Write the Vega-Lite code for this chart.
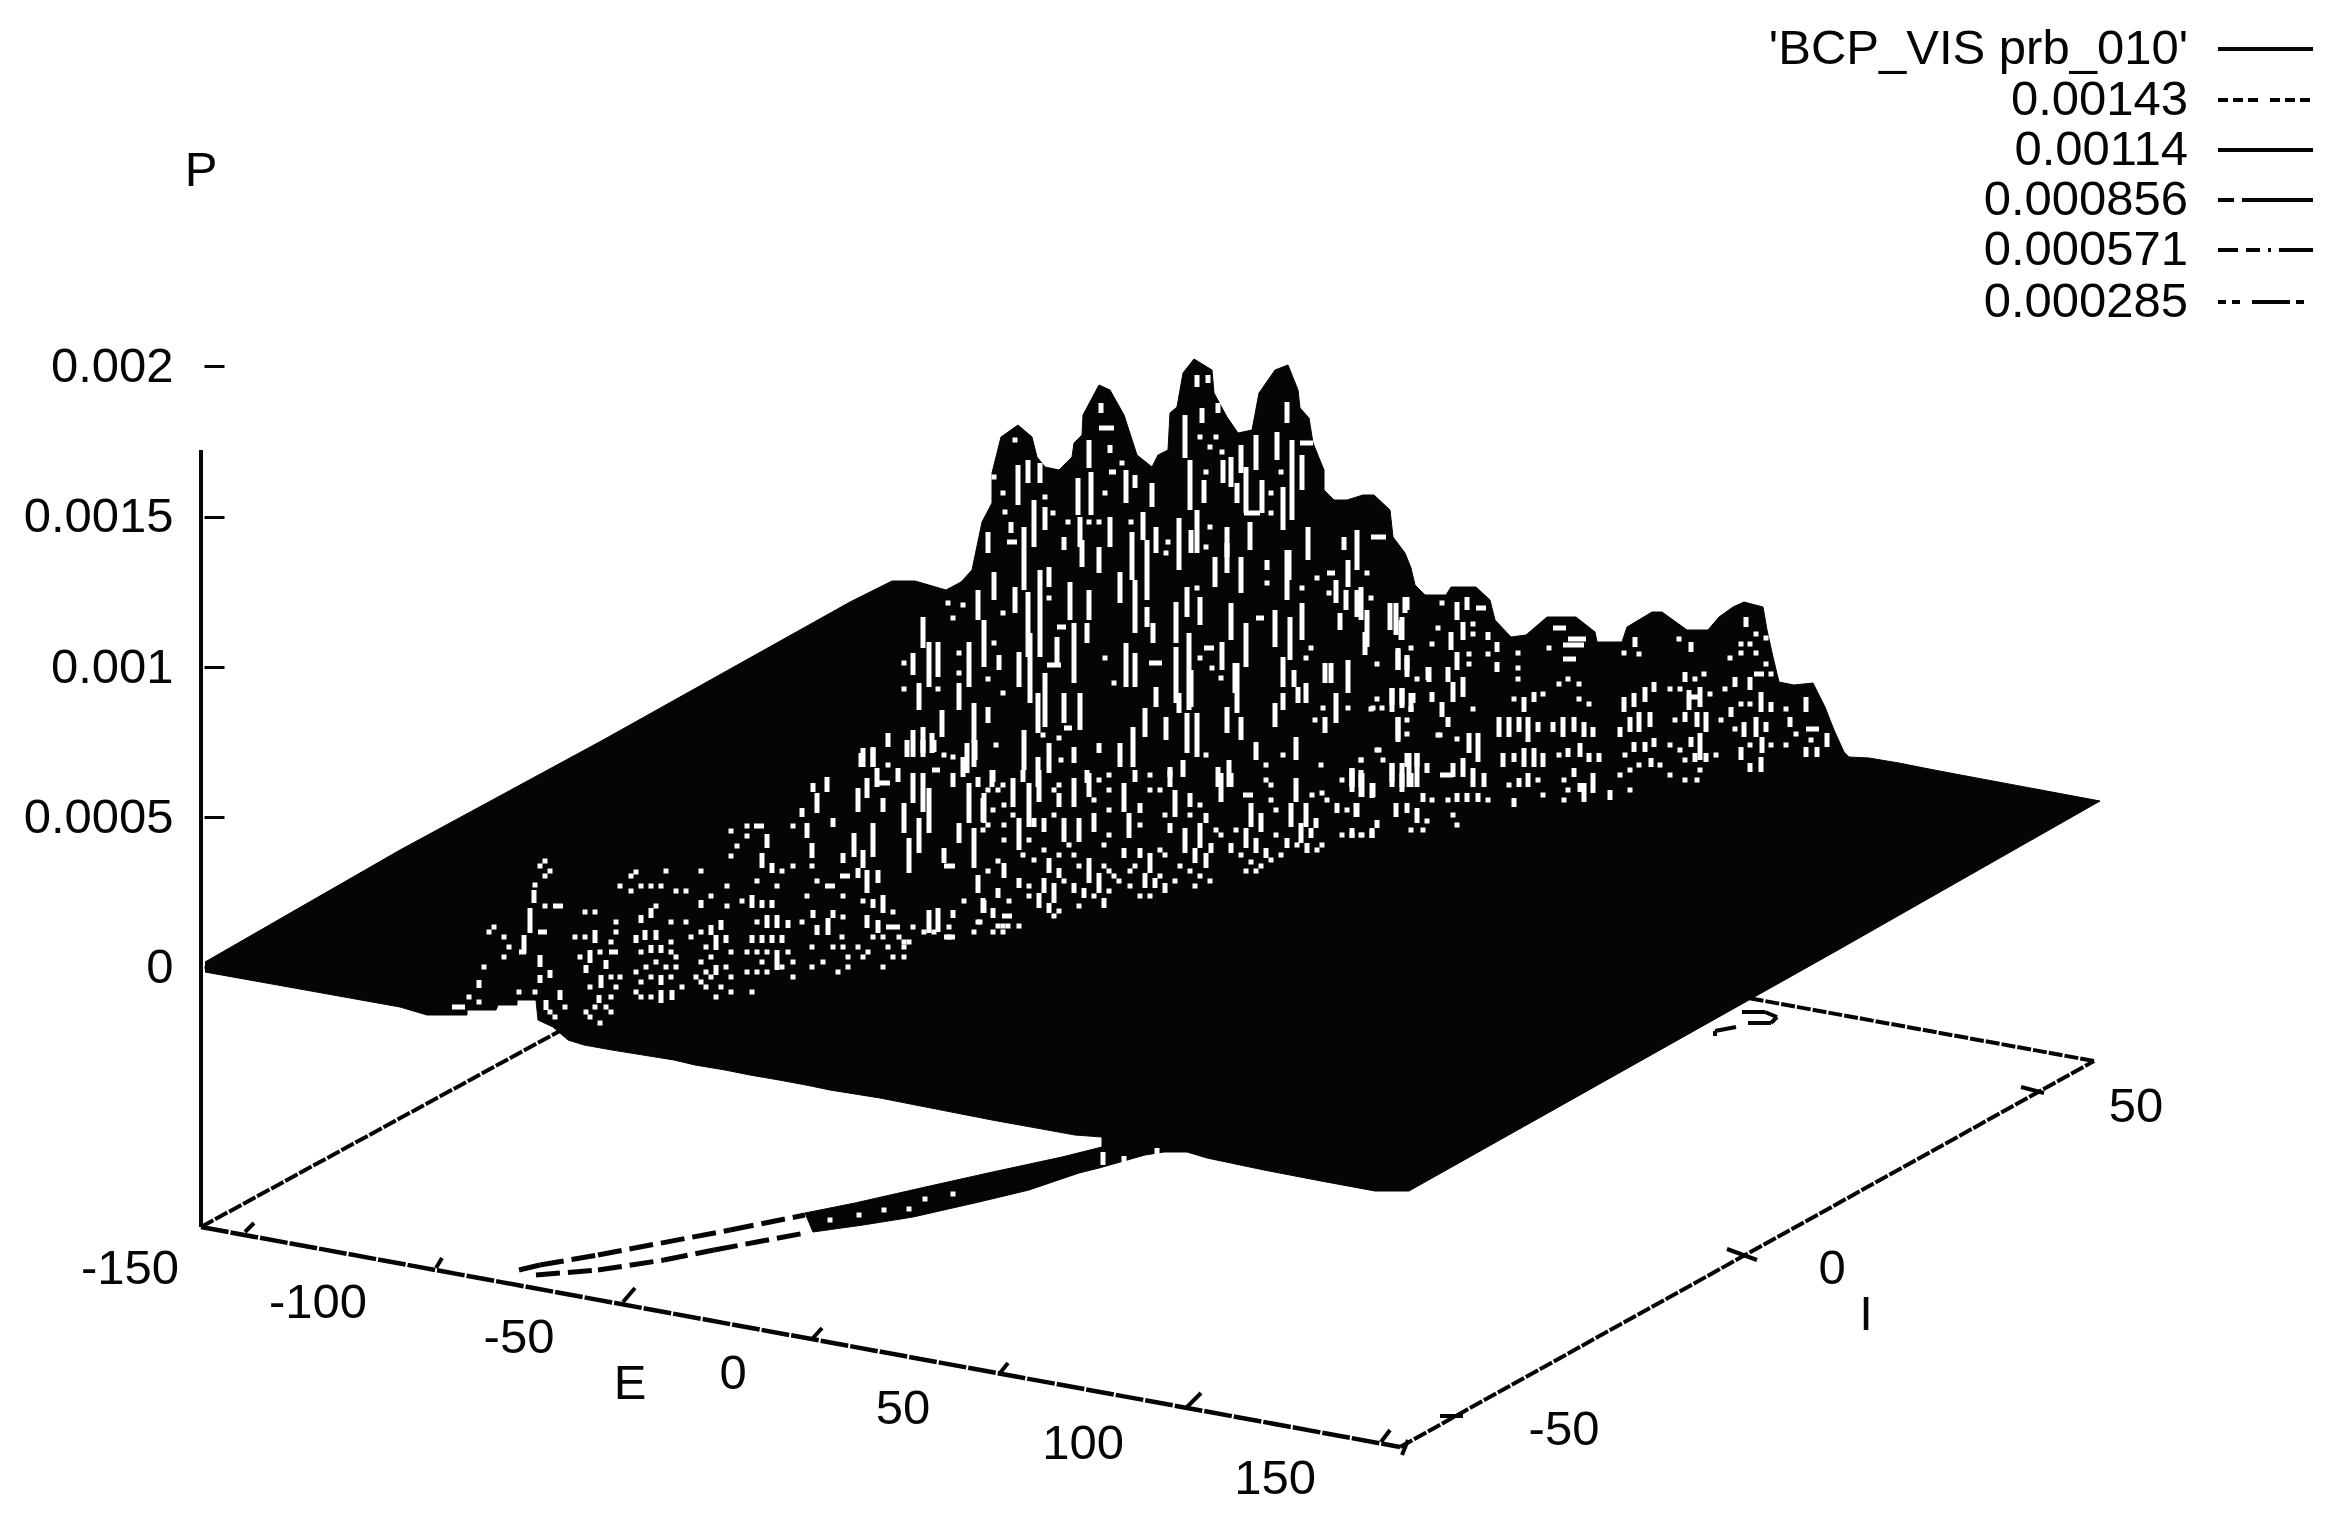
{"$schema":"https://vega.github.io/schema/vega-lite/v6.json","width":2335,"height":1517,"padding":0,"autosize":{"type":"none"},"background":"white","config":{"view":{"stroke":null},"text":{"font":"Liberation Sans","fontSize":49,"fill":"#040504"}},
"datasets":{
"frameLong":[{"h":201,"v":1227,"h2":1400,"v2":1447}],
"frameShort":[{"h":201,"v":1227,"h2":900,"v2":845},{"h":1400,"v":1447,"h2":2094,"v2":1061},{"h":2094,"v":1061,"h2":1600,"v2":971}],
"ticks":[{"h":245,"v":1232,"h2":254,"v2":1223},{"h":436,"v":1268,"h2":442,"v2":1258},{"h":623,"v":1302,"h2":635,"v2":1288},{"h":813,"v":1338,"h2":822,"v2":1328},{"h":1000,"v":1373,"h2":1008,"v2":1363},{"h":1186,"v":1408,"h2":1201,"v2":1393},{"h":1381,"v":1442,"h2":1390,"v2":1430},{"h":1757,"v":1260,"h2":1727,"v2":1249},{"h":2044,"v":1093,"h2":2021,"v2":1087},{"h":1463,"v":1416,"h2":1440,"v2":1416},{"h":1402,"v":1455,"h2":1408,"v2":1440},{"h":1742,"v":1012,"h2":1765,"v2":1012},{"h":1765,"v":1012,"h2":1777,"v2":1017},{"h":1777,"v":1017,"h2":1771,"v2":1023},{"h":1771,"v":1023,"h2":1748,"v2":1023},{"h":1736,"v":1027,"h2":1715,"v2":1031},{"h":1715,"v":1031,"h2":1715,"v2":1036},{"h":201,"v":450,"h2":201,"v2":1227}],
"ribbon":[{"h":519,"v":1270,"h2":540,"v2":1265},{"h":540,"v":1265,"h2":598,"v2":1255},{"h":598,"v":1255,"h2":730,"v2":1230},{"h":730,"v":1230,"h2":805,"v2":1215},{"h":536,"v":1275,"h2":598,"v2":1270},{"h":598,"v":1270,"h2":664,"v2":1260},{"h":664,"v":1260,"h2":714,"v2":1250},{"h":714,"v":1250,"h2":805,"v2":1233}],
"surface":[{"n":1,"h":205,"v":962},{"n":2,"h":400,"v":850},{"n":3,"h":603,"v":740},{"n":4,"h":850,"v":602},{"n":5,"h":892,"v":581},{"n":6,"h":915,"v":581},{"n":7,"h":946,"v":590},{"n":8,"h":961,"v":582},{"n":9,"h":972,"v":570},{"n":10,"h":982,"v":522},{"n":11,"h":992,"v":503},{"n":12,"h":992,"v":473},{"n":13,"h":1001,"v":437},{"n":14,"h":1018,"v":425},{"n":15,"h":1032,"v":437},{"n":16,"h":1037,"v":457},{"n":17,"h":1045,"v":467},{"n":18,"h":1059,"v":470},{"n":19,"h":1072,"v":457},{"n":20,"h":1074,"v":443},{"n":21,"h":1082,"v":435},{"n":22,"h":1083,"v":415},{"n":23,"h":1099,"v":385},{"n":24,"h":1110,"v":390},{"n":25,"h":1124,"v":415},{"n":26,"h":1137,"v":455},{"n":27,"h":1152,"v":467},{"n":28,"h":1158,"v":455},{"n":29,"h":1168,"v":450},{"n":30,"h":1170,"v":413},{"n":31,"h":1177,"v":407},{"n":32,"h":1183,"v":373},{"n":33,"h":1194,"v":359},{"n":34,"h":1212,"v":370},{"n":35,"h":1214,"v":393},{"n":36,"h":1227,"v":417},{"n":37,"h":1238,"v":433},{"n":38,"h":1252,"v":430},{"n":39,"h":1259,"v":393},{"n":40,"h":1275,"v":370},{"n":41,"h":1288,"v":365},{"n":42,"h":1298,"v":390},{"n":43,"h":1300,"v":408},{"n":44,"h":1309,"v":418},{"n":45,"h":1313,"v":443},{"n":46,"h":1324,"v":470},{"n":47,"h":1324,"v":490},{"n":48,"h":1334,"v":500},{"n":49,"h":1347,"v":500},{"n":50,"h":1363,"v":495},{"n":51,"h":1374,"v":495},{"n":52,"h":1390,"v":510},{"n":53,"h":1393,"v":537},{"n":54,"h":1405,"v":553},{"n":55,"h":1411,"v":568},{"n":56,"h":1415,"v":585},{"n":57,"h":1425,"v":595},{"n":58,"h":1446,"v":595},{"n":59,"h":1451,"v":587},{"n":60,"h":1476,"v":587},{"n":61,"h":1490,"v":600},{"n":62,"h":1495,"v":620},{"n":63,"h":1511,"v":637},{"n":64,"h":1526,"v":635},{"n":65,"h":1547,"v":617},{"n":66,"h":1576,"v":617},{"n":67,"h":1595,"v":632},{"n":68,"h":1597,"v":642},{"n":69,"h":1622,"v":642},{"n":70,"h":1627,"v":627},{"n":71,"h":1652,"v":612},{"n":72,"h":1662,"v":612},{"n":73,"h":1687,"v":630},{"n":74,"h":1708,"v":630},{"n":75,"h":1719,"v":617},{"n":76,"h":1733,"v":607},{"n":77,"h":1744,"v":602},{"n":78,"h":1763,"v":607},{"n":79,"h":1767,"v":630},{"n":80,"h":1773,"v":657},{"n":81,"h":1779,"v":682},{"n":82,"h":1794,"v":685},{"n":83,"h":1813,"v":683},{"n":84,"h":1825,"v":707},{"n":85,"h":1834,"v":730},{"n":86,"h":1844,"v":752},{"n":87,"h":1849,"v":757},{"n":88,"h":1869,"v":758},{"n":89,"h":1899,"v":763},{"n":90,"h":1924,"v":768},{"n":91,"h":1950,"v":773},{"n":92,"h":2100,"v":801},{"n":93,"h":1838,"v":950},{"n":94,"h":1409,"v":1191},{"n":95,"h":1375,"v":1191},{"n":96,"h":1321,"v":1181},{"n":97,"h":1264,"v":1170},{"n":98,"h":1207,"v":1158},{"n":99,"h":1187,"v":1152},{"n":100,"h":1164,"v":1152},{"n":101,"h":1145,"v":1155},{"n":102,"h":1099,"v":1168},{"n":103,"h":1079,"v":1173},{"n":104,"h":1029,"v":1190},{"n":105,"h":979,"v":1202},{"n":106,"h":913,"v":1217},{"n":107,"h":863,"v":1225},{"n":108,"h":813,"v":1232},{"n":109,"h":805,"v":1213},{"n":110,"h":855,"v":1203},{"n":111,"h":921,"v":1188},{"n":112,"h":988,"v":1173},{"n":113,"h":1062,"v":1157},{"n":114,"h":1102,"v":1147},{"n":115,"h":1102,"v":1137},{"n":116,"h":1075,"v":1135},{"n":117,"h":992,"v":1120},{"n":118,"h":880,"v":1098},{"n":119,"h":830,"v":1090},{"n":120,"h":806,"v":1085},{"n":121,"h":779,"v":1080},{"n":122,"h":750,"v":1075},{"n":123,"h":725,"v":1070},{"n":124,"h":695,"v":1065},{"n":125,"h":674,"v":1060},{"n":126,"h":643,"v":1055},{"n":127,"h":612,"v":1050},{"n":128,"h":584,"v":1045},{"n":129,"h":568,"v":1040},{"n":130,"h":553,"v":1027},{"n":131,"h":538,"v":1020},{"n":132,"h":536,"v":1000},{"n":133,"h":517,"v":1000},{"n":134,"h":517,"v":1005},{"n":135,"h":498,"v":1005},{"n":136,"h":496,"v":1010},{"n":137,"h":467,"v":1010},{"n":138,"h":467,"v":1015},{"n":139,"h":427,"v":1015},{"n":140,"h":400,"v":1007},{"n":141,"h":205,"v":972}],
"vert":[{"h":1018,"v":465,"v2":505},{"h":1028,"v":460,"v2":483},{"h":1040,"v":463,"v2":483},{"h":1091,"v":472,"v2":515},{"h":1078,"v":478,"v2":515},{"h":1089,"v":440,"v2":468},{"h":1110,"v":445,"v2":453},{"h":1126,"v":470,"v2":503},{"h":1135,"v":475,"v2":488},{"h":1152,"v":483,"v2":507},{"h":1185,"v":415,"v2":458},{"h":1190,"v":460,"v2":510},{"h":1197,"v":510,"v2":553},{"h":1197,"v":375,"v2":387},{"h":1208,"v":375,"v2":383},{"h":1101,"v":403,"v2":413},{"h":1218,"v":403,"v2":413},{"h":1202,"v":408,"v2":423},{"h":1241,"v":445,"v2":473},{"h":1256,"v":435,"v2":470},{"h":1277,"v":432,"v2":460},{"h":1287,"v":402,"v2":423},{"h":1292,"v":440,"v2":520},{"h":1302,"v":455,"v2":490},{"h":1223,"v":460,"v2":483},{"h":1231,"v":457,"v2":487},{"h":1237,"v":483,"v2":503},{"h":1246,"v":467,"v2":513},{"h":1262,"v":480,"v2":513},{"h":1283,"v":487,"v2":530},{"h":1204,"v":480,"v2":503},{"h":1034,"v":500,"v2":547},{"h":1045,"v":507,"v2":530},{"h":1024,"v":527,"v2":590},{"h":1011,"v":522,"v2":533},{"h":988,"v":532,"v2":553},{"h":1080,"v":517,"v2":547},{"h":1110,"v":517,"v2":547},{"h":1132,"v":532,"v2":580},{"h":1143,"v":512,"v2":540},{"h":1147,"v":540,"v2":600},{"h":1156,"v":527,"v2":553},{"h":1179,"v":518,"v2":570},{"h":1191,"v":530,"v2":553},{"h":1227,"v":527,"v2":557},{"h":1250,"v":522,"v2":550},{"h":1289,"v":550,"v2":580},{"h":1308,"v":527,"v2":560},{"h":1357,"v":530,"v2":570},{"h":1348,"v":560,"v2":587},{"h":1344,"v":537,"v2":550},{"h":1082,"v":540,"v2":567},{"h":1099,"v":547,"v2":573},{"h":1064,"v":537,"v2":550},{"h":1215,"v":557,"v2":587},{"h":1227,"v":543,"v2":573},{"h":1241,"v":557,"v2":593},{"h":1287,"v":550,"v2":600},{"h":1267,"v":560,"v2":570},{"h":1040,"v":570,"v2":657},{"h":1049,"v":567,"v2":587},{"h":1028,"v":592,"v2":657},{"h":1015,"v":587,"v2":613},{"h":994,"v":572,"v2":600},{"h":978,"v":590,"v2":620},{"h":984,"v":620,"v2":667},{"h":923,"v":617,"v2":648},{"h":938,"v":642,"v2":677},{"h":929,"v":642,"v2":687},{"h":913,"v":653,"v2":675},{"h":969,"v":642,"v2":687},{"h":1019,"v":652,"v2":687},{"h":1030,"v":633,"v2":703},{"h":999,"v":655,"v2":670},{"h":1057,"v":637,"v2":663},{"h":1070,"v":582,"v2":620},{"h":1074,"v":623,"v2":683},{"h":1089,"v":590,"v2":620},{"h":1087,"v":623,"v2":643},{"h":1120,"v":572,"v2":603},{"h":1135,"v":580,"v2":633},{"h":1147,"v":607,"v2":627},{"h":1153,"v":623,"v2":643},{"h":1126,"v":643,"v2":687},{"h":1135,"v":653,"v2":687},{"h":1176,"v":602,"v2":643},{"h":1176,"v":647,"v2":703},{"h":1189,"v":633,"v2":710},{"h":1187,"v":587,"v2":617},{"h":1200,"v":597,"v2":625},{"h":1222,"v":642,"v2":670},{"h":1235,"v":663,"v2":693},{"h":1246,"v":623,"v2":667},{"h":1231,"v":603,"v2":640},{"h":1275,"v":610,"v2":647},{"h":1290,"v":617,"v2":660},{"h":1302,"v":603,"v2":640},{"h":1283,"v":657,"v2":687},{"h":1294,"v":670,"v2":687},{"h":1306,"v":683,"v2":703},{"h":1336,"v":580,"v2":603},{"h":1346,"v":590,"v2":610},{"h":1357,"v":590,"v2":617},{"h":1367,"v":610,"v2":647},{"h":1340,"v":613,"v2":630},{"h":1401,"v":620,"v2":640},{"h":1405,"v":597,"v2":613},{"h":1390,"v":603,"v2":630},{"h":1398,"v":650,"v2":670},{"h":1325,"v":663,"v2":683},{"h":1331,"v":663,"v2":683},{"h":1348,"v":660,"v2":693},{"h":1407,"v":657,"v2":670},{"h":1428,"v":667,"v2":680},{"h":1336,"v":693,"v2":723},{"h":1402,"v":688,"v2":705},{"h":1392,"v":688,"v2":705},{"h":1413,"v":693,"v2":703},{"h":1398,"v":717,"v2":740},{"h":1325,"v":717,"v2":733},{"h":1409,"v":753,"v2":787},{"h":1417,"v":753,"v2":787},{"h":1392,"v":763,"v2":787},{"h":1402,"v":763,"v2":787},{"h":1361,"v":770,"v2":787},{"h":1352,"v":768,"v2":787},{"h":919,"v":683,"v2":710},{"h":959,"v":683,"v2":710},{"h":974,"v":703,"v2":743},{"h":988,"v":707,"v2":723},{"h":942,"v":710,"v2":737},{"h":932,"v":733,"v2":753},{"h":913,"v":730,"v2":757},{"h":923,"v":727,"v2":753},{"h":888,"v":733,"v2":747},{"h":873,"v":747,"v2":767},{"h":861,"v":753,"v2":767},{"h":974,"v":740,"v2":767},{"h":967,"v":743,"v2":773},{"h":1024,"v":730,"v2":770},{"h":1038,"v":693,"v2":733},{"h":1045,"v":673,"v2":727},{"h":1064,"v":693,"v2":723},{"h":1080,"v":693,"v2":730},{"h":1049,"v":743,"v2":773},{"h":1038,"v":757,"v2":787},{"h":1074,"v":747,"v2":763},{"h":1099,"v":743,"v2":753},{"h":1120,"v":743,"v2":767},{"h":1133,"v":727,"v2":767},{"h":1145,"v":708,"v2":737},{"h":1166,"v":717,"v2":740},{"h":1187,"v":713,"v2":753},{"h":1197,"v":713,"v2":757},{"h":1156,"v":687,"v2":707},{"h":1191,"v":670,"v2":707},{"h":1179,"v":693,"v2":713},{"h":1227,"v":707,"v2":733},{"h":1241,"v":717,"v2":740},{"h":1237,"v":663,"v2":713},{"h":1256,"v":742,"v2":760},{"h":1296,"v":737,"v2":760},{"h":992,"v":770,"v2":787},{"h":1087,"v":770,"v2":783},{"h":1170,"v":767,"v2":777},{"h":1183,"v":760,"v2":777},{"h":1218,"v":767,"v2":787},{"h":1229,"v":760,"v2":787},{"h":1275,"v":703,"v2":727},{"h":1283,"v":693,"v2":710},{"h":1298,"v":687,"v2":703},{"h":1365,"v":632,"v2":655},{"h":1361,"v":587,"v2":620},{"h":1396,"v":603,"v2":635},{"h":1407,"v":597,"v2":610},{"h":1402,"v":617,"v2":640},{"h":1398,"v":648,"v2":670},{"h":1407,"v":655,"v2":677},{"h":1429,"v":667,"v2":682},{"h":1448,"v":667,"v2":682},{"h":1451,"v":632,"v2":650},{"h":1457,"v":652,"v2":670},{"h":1457,"v":602,"v2":620},{"h":1467,"v":597,"v2":610},{"h":1463,"v":622,"v2":640},{"h":1488,"v":632,"v2":640},{"h":1497,"v":642,"v2":652},{"h":1497,"v":662,"v2":672},{"h":1392,"v":688,"v2":712},{"h":1402,"v":688,"v2":708},{"h":1411,"v":693,"v2":712},{"h":1442,"v":702,"v2":717},{"h":1448,"v":717,"v2":727},{"h":1453,"v":682,"v2":702},{"h":1463,"v":677,"v2":697},{"h":1398,"v":717,"v2":742},{"h":1432,"v":692,"v2":702},{"h":1499,"v":717,"v2":737},{"h":1509,"v":717,"v2":737},{"h":1519,"v":717,"v2":732},{"h":1528,"v":717,"v2":742},{"h":1538,"v":722,"v2":732},{"h":1524,"v":697,"v2":712},{"h":1534,"v":692,"v2":702},{"h":1553,"v":722,"v2":732},{"h":1563,"v":717,"v2":737},{"h":1574,"v":717,"v2":732},{"h":1584,"v":722,"v2":737},{"h":1593,"v":727,"v2":737},{"h":1620,"v":727,"v2":737},{"h":1630,"v":717,"v2":732},{"h":1639,"v":712,"v2":732},{"h":1650,"v":712,"v2":727},{"h":1624,"v":697,"v2":712},{"h":1634,"v":693,"v2":707},{"h":1645,"v":687,"v2":702},{"h":1635,"v":637,"v2":647},{"h":1654,"v":682,"v2":692},{"h":1685,"v":672,"v2":682},{"h":1685,"v":712,"v2":722},{"h":1697,"v":712,"v2":727},{"h":1706,"v":712,"v2":732},{"h":1689,"v":690,"v2":710},{"h":1700,"v":687,"v2":707},{"h":1691,"v":642,"v2":652},{"h":1731,"v":707,"v2":717},{"h":1735,"v":677,"v2":687},{"h":1750,"v":677,"v2":690},{"h":1746,"v":617,"v2":627},{"h":1744,"v":722,"v2":737},{"h":1756,"v":717,"v2":737},{"h":1766,"v":722,"v2":732},{"h":1761,"v":692,"v2":712},{"h":1771,"v":702,"v2":712},{"h":1790,"v":717,"v2":727},{"h":1806,"v":697,"v2":712},{"h":1827,"v":733,"v2":747},{"h":1806,"v":747,"v2":757},{"h":1817,"v":747,"v2":757},{"h":1762,"v":737,"v2":753},{"h":1741,"v":747,"v2":760},{"h":1750,"v":763,"v2":772},{"h":1761,"v":757,"v2":772},{"h":1691,"v":737,"v2":747},{"h":1700,"v":733,"v2":760},{"h":1695,"v":753,"v2":762},{"h":1706,"v":753,"v2":762},{"h":1654,"v":738,"v2":747},{"h":1645,"v":742,"v2":752},{"h":1634,"v":742,"v2":752},{"h":1651,"v":758,"v2":767},{"h":1580,"v":743,"v2":757},{"h":1568,"v":748,"v2":757},{"h":1589,"v":753,"v2":762},{"h":1599,"v":753,"v2":762},{"h":1503,"v":753,"v2":767},{"h":1514,"v":753,"v2":762},{"h":1524,"v":748,"v2":767},{"h":1534,"v":748,"v2":767},{"h":1543,"v":753,"v2":767},{"h":1478,"v":733,"v2":762},{"h":1469,"v":733,"v2":753},{"h":1463,"v":758,"v2":777},{"h":1473,"v":768,"v2":787},{"h":1453,"v":763,"v2":777},{"h":1484,"v":773,"v2":787},{"h":1427,"v":763,"v2":773},{"h":1417,"v":753,"v2":767},{"h":1407,"v":753,"v2":767},{"h":1402,"v":773,"v2":792},{"h":1411,"v":773,"v2":787},{"h":1392,"v":763,"v2":782},{"h":1361,"v":773,"v2":797},{"h":1373,"v":783,"v2":797},{"h":1352,"v":768,"v2":787},{"h":1356,"v":803,"v2":817},{"h":1396,"v":803,"v2":817},{"h":1407,"v":803,"v2":813},{"h":1417,"v":808,"v2":823},{"h":1377,"v":820,"v2":828},{"h":1372,"v":830,"v2":838},{"h":1423,"v":793,"v2":802},{"h":1457,"v":793,"v2":802},{"h":1467,"v":793,"v2":802},{"h":1478,"v":793,"v2":802},{"h":1528,"v":773,"v2":787},{"h":1519,"v":778,"v2":787},{"h":1514,"v":798,"v2":807},{"h":1574,"v":768,"v2":777},{"h":1584,"v":783,"v2":802},{"h":1593,"v":773,"v2":793},{"h":1580,"v":783,"v2":792},{"h":1610,"v":790,"v2":800},{"h":530,"v":908,"v2":933},{"h":534,"v":890,"v2":903},{"h":524,"v":935,"v2":953},{"h":479,"v":980,"v2":988},{"h":540,"v":955,"v2":967},{"h":550,"v":970,"v2":978},{"h":540,"v":975,"v2":983},{"h":546,"v":1000,"v2":1010},{"h":560,"v":990,"v2":1000},{"h":595,"v":930,"v2":943},{"h":586,"v":965,"v2":973},{"h":590,"v":950,"v2":963},{"h":606,"v":960,"v2":969},{"h":601,"v":975,"v2":988},{"h":599,"v":995,"v2":1003},{"h":636,"v":935,"v2":943},{"h":645,"v":930,"v2":940},{"h":656,"v":930,"v2":940},{"h":651,"v":945,"v2":953},{"h":661,"v":945,"v2":953},{"h":641,"v":915,"v2":923},{"h":651,"v":908,"v2":918},{"h":661,"v":975,"v2":985},{"h":672,"v":990,"v2":1000},{"h":661,"v":990,"v2":1003},{"h":716,"v":935,"v2":950},{"h":726,"v":935,"v2":943},{"h":711,"v":925,"v2":935},{"h":721,"v":920,"v2":930},{"h":716,"v":965,"v2":975},{"h":701,"v":900,"v2":908},{"h":752,"v":895,"v2":908},{"h":762,"v":900,"v2":908},{"h":772,"v":900,"v2":908},{"h":752,"v":935,"v2":943},{"h":762,"v":935,"v2":943},{"h":772,"v":935,"v2":943},{"h":782,"v":935,"v2":943},{"h":767,"v":915,"v2":928},{"h":777,"v":915,"v2":928},{"h":788,"v":920,"v2":928},{"h":777,"v":950,"v2":970},{"h":762,"v":853,"v2":868},{"h":772,"v":863,"v2":873},{"h":767,"v":834,"v2":848},{"h":807,"v":823,"v2":838},{"h":812,"v":843,"v2":858},{"h":813,"v":910,"v2":918},{"h":828,"v":918,"v2":935},{"h":817,"v":925,"v2":935},{"h":833,"v":910,"v2":918},{"h":873,"v":899,"v2":908},{"h":867,"v":915,"v2":928},{"h":878,"v":920,"v2":933},{"h":883,"v":895,"v2":913},{"h":843,"v":853,"v2":863},{"h":854,"v":833,"v2":857},{"h":863,"v":850,"v2":868},{"h":873,"v":823,"v2":857},{"h":904,"v":803,"v2":833},{"h":919,"v":818,"v2":853},{"h":929,"v":788,"v2":833},{"h":909,"v":838,"v2":873},{"h":944,"v":848,"v2":863},{"h":959,"v":823,"v2":843},{"h":974,"v":828,"v2":868},{"h":978,"v":875,"v2":893},{"h":984,"v":900,"v2":913},{"h":929,"v":910,"v2":933},{"h":938,"v":908,"v2":932},{"h":953,"v":910,"v2":918},{"h":867,"v":870,"v2":893},{"h":878,"v":870,"v2":883},{"h":858,"v":868,"v2":878},{"h":858,"v":788,"v2":812},{"h":867,"v":778,"v2":798},{"h":883,"v":798,"v2":812},{"h":898,"v":768,"v2":782},{"h":913,"v":773,"v2":803},{"h":923,"v":773,"v2":812},{"h":863,"v":748,"v2":767},{"h":873,"v":748,"v2":767},{"h":877,"v":768,"v2":787},{"h":817,"v":793,"v2":813},{"h":827,"v":777,"v2":792},{"h":813,"v":783,"v2":792},{"h":802,"v":808,"v2":817},{"h":833,"v":818,"v2":827},{"h":969,"v":783,"v2":823},{"h":984,"v":793,"v2":823},{"h":953,"v":773,"v2":787},{"h":907,"v":740,"v2":757},{"h":923,"v":740,"v2":757},{"h":934,"v":740,"v2":752},{"h":975,"v":740,"v2":760},{"h":963,"v":757,"v2":777},{"h":978,"v":777,"v2":787},{"h":1103,"v":1152,"v2":1165},{"h":1124,"v":1156,"v2":1166},{"h":1157,"v":1148,"v2":1156},{"h":983,"v":798,"v2":822},{"h":993,"v":770,"v2":782},{"h":1013,"v":778,"v2":807},{"h":1023,"v":770,"v2":782},{"h":1029,"v":783,"v2":827},{"h":1039,"v":770,"v2":802},{"h":1059,"v":793,"v2":807},{"h":1074,"v":778,"v2":807},{"h":1089,"v":773,"v2":797},{"h":1124,"v":783,"v2":812},{"h":1135,"v":770,"v2":782},{"h":1170,"v":770,"v2":787},{"h":1175,"v":790,"v2":817},{"h":1190,"v":793,"v2":807},{"h":1140,"v":803,"v2":813},{"h":1221,"v":773,"v2":802},{"h":1231,"v":773,"v2":787},{"h":1251,"v":803,"v2":827},{"h":1261,"v":813,"v2":832},{"h":1296,"v":778,"v2":802},{"h":1291,"v":803,"v2":827},{"h":1306,"v":803,"v2":827},{"h":1352,"v":770,"v2":792},{"h":1362,"v":773,"v2":797},{"h":1372,"v":783,"v2":798},{"h":1337,"v":803,"v2":813},{"h":1357,"v":803,"v2":817},{"h":1019,"v":818,"v2":850},{"h":1034,"v":818,"v2":827},{"h":1044,"v":818,"v2":832},{"h":1064,"v":818,"v2":842},{"h":1079,"v":818,"v2":842},{"h":1094,"v":813,"v2":832},{"h":1129,"v":813,"v2":838},{"h":1170,"v":823,"v2":833},{"h":1185,"v":828,"v2":853},{"h":1200,"v":823,"v2":848},{"h":1206,"v":813,"v2":823},{"h":1246,"v":828,"v2":848},{"h":1301,"v":823,"v2":843},{"h":1316,"v":818,"v2":828},{"h":1311,"v":828,"v2":838},{"h":1352,"v":828,"v2":838},{"h":1372,"v":828,"v2":838},{"h":1287,"v":838,"v2":848},{"h":1231,"v":843,"v2":853},{"h":1256,"v":838,"v2":853},{"h":1211,"v":843,"v2":853},{"h":1195,"v":848,"v2":863},{"h":1206,"v":853,"v2":868},{"h":1266,"v":848,"v2":858},{"h":1307,"v":843,"v2":853},{"h":1124,"v":848,"v2":858},{"h":1140,"v":848,"v2":858},{"h":1150,"v":853,"v2":873},{"h":1049,"v":858,"v2":873},{"h":1004,"v":863,"v2":878},{"h":1089,"v":858,"v2":883},{"h":1059,"v":868,"v2":878},{"h":1099,"v":873,"v2":893},{"h":1145,"v":873,"v2":888},{"h":1155,"v":878,"v2":888},{"h":1165,"v":883,"v2":893},{"h":1044,"v":878,"v2":893},{"h":1054,"v":883,"v2":903},{"h":1039,"v":893,"v2":908},{"h":1019,"v":878,"v2":888},{"h":1074,"v":883,"v2":893},{"h":1084,"v":888,"v2":898},{"h":1104,"v":898,"v2":908},{"h":998,"v":888,"v2":898},{"h":983,"v":898,"v2":913},{"h":993,"v":908,"v2":918},{"h":1049,"v":903,"v2":913}],
"horiz":[{"h":1149,"h2":1162,"v":663},{"h":1204,"h2":1214,"v":648},{"h":1256,"h2":1264,"v":618},{"h":1371,"h2":1386,"v":537},{"h":1327,"h2":1335,"v":573},{"h":1007,"h2":1017,"v":542},{"h":1109,"h2":1116,"v":472},{"h":932,"h2":940,"v":770},{"h":1064,"h2":1072,"v":728},{"h":1057,"h2":1066,"v":627},{"h":1047,"h2":1061,"v":665},{"h":1244,"h2":1260,"v":513},{"h":1300,"h2":1313,"v":443},{"h":1099,"h2":1114,"v":428},{"h":1563,"h2":1584,"v":645},{"h":1563,"h2":1576,"v":659},{"h":1553,"h2":1566,"v":628},{"h":1568,"h2":1586,"v":639},{"h":1689,"h2":1702,"v":697},{"h":1806,"h2":1819,"v":729},{"h":1476,"h2":1486,"v":608},{"h":1440,"h2":1453,"v":775},{"h":1754,"h2":1764,"v":674},{"h":553,"h2":563,"v":906},{"h":538,"h2":547,"v":932},{"h":609,"h2":618,"v":952},{"h":754,"h2":764,"v":826},{"h":825,"h2":835,"v":886},{"h":840,"h2":850,"v":876},{"h":886,"h2":900,"v":927},{"h":944,"h2":955,"v":937},{"h":944,"h2":955,"v":866},{"h":519,"h2":526,"v":952},{"h":875,"h2":890,"v":783},{"h":452,"h2":465,"v":1007},{"h":1002,"h2":1012,"v":916},{"h":1243,"h2":1253,"v":795}],
"cells":[{"h":994,"v":477},{"h":1003,"v":493},{"h":1005,"v":512},{"h":1015,"v":440},{"h":1045,"v":497},{"h":1053,"v":513},{"h":1068,"v":522},{"h":1089,"v":522},{"h":1099,"v":522},{"h":1131,"v":522},{"h":1168,"v":542},{"h":1166,"v":553},{"h":1105,"v":493},{"h":1122,"v":463},{"h":1206,"v":472},{"h":1271,"v":493},{"h":1271,"v":513},{"h":1281,"v":472},{"h":1210,"v":527},{"h":1206,"v":547},{"h":1222,"v":452},{"h":1210,"v":447},{"h":1200,"v":437},{"h":1216,"v":437},{"h":1197,"v":588},{"h":1267,"v":583},{"h":1302,"v":588},{"h":1329,"v":593},{"h":1367,"v":573},{"h":1317,"v":578},{"h":1049,"v":598},{"h":1003,"v":613},{"h":953,"v":618},{"h":963,"v":605},{"h":948,"v":603},{"h":994,"v":643},{"h":959,"v":653},{"h":904,"v":663},{"h":959,"v":673},{"h":988,"v":679},{"h":904,"v":689},{"h":1003,"v":693},{"h":938,"v":689},{"h":1105,"v":658},{"h":1114,"v":683},{"h":1200,"v":658},{"h":1212,"v":668},{"h":1221,"v":678},{"h":1306,"v":658},{"h":1311,"v":648},{"h":1323,"v":708},{"h":1348,"v":708},{"h":1373,"v":708},{"h":1382,"v":708},{"h":1315,"v":720},{"h":1440,"v":735},{"h":1361,"v":760},{"h":1379,"v":750},{"h":1283,"v":755},{"h":1266,"v":765},{"h":1206,"v":755},{"h":944,"v":755},{"h":953,"v":757},{"h":888,"v":765},{"h":1043,"v":735},{"h":1059,"v":738},{"h":996,"v":745},{"h":1061,"v":760},{"h":1321,"v":765},{"h":1518,"v":653},{"h":1518,"v":668},{"h":1518,"v":679},{"h":1488,"v":654},{"h":1549,"v":648},{"h":1559,"v":684},{"h":1568,"v":679},{"h":1579,"v":684},{"h":1514,"v":699},{"h":1543,"v":694},{"h":1579,"v":699},{"h":1589,"v":704},{"h":1624,"v":653},{"h":1639,"v":654},{"h":1679,"v":639},{"h":1670,"v":689},{"h":1680,"v":689},{"h":1710,"v":694},{"h":1704,"v":674},{"h":1695,"v":679},{"h":1725,"v":689},{"h":1741,"v":653},{"h":1756,"v":653},{"h":1741,"v":644},{"h":1750,"v":644},{"h":1756,"v":634},{"h":1766,"v":638},{"h":1730,"v":658},{"h":1766,"v":664},{"h":1771,"v":674},{"h":1741,"v":704},{"h":1750,"v":704},{"h":1786,"v":709},{"h":1735,"v":729},{"h":1721,"v":720},{"h":1675,"v":720},{"h":1796,"v":734},{"h":1811,"v":740},{"h":1786,"v":745},{"h":1771,"v":745},{"h":1750,"v":745},{"h":1670,"v":745},{"h":1680,"v":750},{"h":1685,"v":760},{"h":1716,"v":755},{"h":1625,"v":755},{"h":1620,"v":775},{"h":1630,"v":770},{"h":1630,"v":790},{"h":1670,"v":775},{"h":1685,"v":780},{"h":1697,"v":780},{"h":1700,"v":770},{"h":1660,"v":765},{"h":1639,"v":765},{"h":1559,"v":755},{"h":1564,"v":780},{"h":1568,"v":790},{"h":1564,"v":800},{"h":1509,"v":785},{"h":1538,"v":780},{"h":1543,"v":795},{"h":1488,"v":800},{"h":1448,"v":800},{"h":1432,"v":800},{"h":1453,"v":815},{"h":1457,"v":825},{"h":1411,"v":830},{"h":1423,"v":830},{"h":1361,"v":835},{"h":1352,"v":835},{"h":1427,"v":821},{"h":1377,"v":750},{"h":1361,"v":760},{"h":1383,"v":760},{"h":1438,"v":628},{"h":1438,"v":735},{"h":1457,"v":739},{"h":1473,"v":709},{"h":1407,"v":734},{"h":1407,"v":720},{"h":1371,"v":709},{"h":1377,"v":699},{"h":1411,"v":709},{"h":1411,"v":648},{"h":1377,"v":664},{"h":1371,"v":598},{"h":1473,"v":634},{"h":1473,"v":624},{"h":1442,"v":603},{"h":1469,"v":664},{"h":1469,"v":654},{"h":1417,"v":679},{"h":1432,"v":644},{"h":545,"v":861},{"h":540,"v":866},{"h":550,"v":871},{"h":545,"v":876},{"h":535,"v":885},{"h":545,"v":906},{"h":494,"v":927},{"h":489,"v":932},{"h":504,"v":937},{"h":509,"v":947},{"h":504,"v":957},{"h":484,"v":967},{"h":519,"v":992},{"h":535,"v":992},{"h":479,"v":1002},{"h":469,"v":997},{"h":565,"v":1007},{"h":555,"v":1017},{"h":550,"v":1012},{"h":585,"v":912},{"h":595,"v":912},{"h":575,"v":937},{"h":585,"v":937},{"h":616,"v":922},{"h":616,"v":932},{"h":611,"v":942},{"h":580,"v":957},{"h":600,"v":952},{"h":611,"v":977},{"h":620,"v":977},{"h":590,"v":987},{"h":616,"v":987},{"h":611,"v":997},{"h":595,"v":1007},{"h":586,"v":1012},{"h":590,"v":1017},{"h":611,"v":1012},{"h":600,"v":1023},{"h":606,"v":1007},{"h":636,"v":872},{"h":631,"v":876},{"h":620,"v":886},{"h":631,"v":891},{"h":641,"v":886},{"h":651,"v":886},{"h":661,"v":886},{"h":676,"v":891},{"h":686,"v":891},{"h":666,"v":871},{"h":701,"v":871},{"h":656,"v":906},{"h":671,"v":922},{"h":686,"v":922},{"h":671,"v":942},{"h":671,"v":952},{"h":676,"v":957},{"h":641,"v":952},{"h":636,"v":972},{"h":646,"v":967},{"h":656,"v":962},{"h":666,"v":967},{"h":676,"v":967},{"h":651,"v":977},{"h":641,"v":982},{"h":671,"v":977},{"h":682,"v":987},{"h":636,"v":992},{"h":641,"v":997},{"h":651,"v":997},{"h":691,"v":937},{"h":701,"v":932},{"h":706,"v":947},{"h":731,"v":952},{"h":711,"v":957},{"h":701,"v":962},{"h":726,"v":967},{"h":706,"v":972},{"h":696,"v":977},{"h":701,"v":982},{"h":706,"v":987},{"h":711,"v":977},{"h":731,"v":977},{"h":721,"v":987},{"h":731,"v":992},{"h":716,"v":997},{"h":752,"v":992},{"h":727,"v":886},{"h":711,"v":896},{"h":727,"v":906},{"h":742,"v":901},{"h":757,"v":922},{"h":757,"v":881},{"h":777,"v":886},{"h":747,"v":826},{"h":731,"v":831},{"h":747,"v":836},{"h":737,"v":846},{"h":731,"v":856},{"h":793,"v":826},{"h":793,"v":866},{"h":782,"v":871},{"h":812,"v":866},{"h":817,"v":881},{"h":807,"v":896},{"h":843,"v":896},{"h":802,"v":922},{"h":843,"v":917},{"h":842,"v":937},{"h":747,"v":952},{"h":757,"v":952},{"h":767,"v":952},{"h":788,"v":952},{"h":762,"v":962},{"h":793,"v":962},{"h":747,"v":972},{"h":757,"v":972},{"h":767,"v":972},{"h":782,"v":967},{"h":793,"v":977},{"h":812,"v":947},{"h":858,"v":947},{"h":812,"v":967},{"h":823,"v":962},{"h":838,"v":972},{"h":848,"v":967},{"h":848,"v":957},{"h":833,"v":947},{"h":843,"v":947},{"h":863,"v":957},{"h":868,"v":952},{"h":863,"v":901},{"h":873,"v":937},{"h":883,"v":937},{"h":893,"v":912},{"h":913,"v":927},{"h":899,"v":937},{"h":904,"v":942},{"h":909,"v":942},{"h":888,"v":947},{"h":904,"v":947},{"h":883,"v":967},{"h":893,"v":957},{"h":904,"v":957},{"h":924,"v":932},{"h":934,"v":932},{"h":949,"v":927},{"h":974,"v":932},{"h":978,"v":922},{"h":949,"v":937},{"h":964,"v":901},{"h":830,"v":1220},{"h":859,"v":1215},{"h":884,"v":1210},{"h":909,"v":1209},{"h":953,"v":1194},{"h":925,"v":1199},{"h":1003,"v":785},{"h":998,"v":790},{"h":988,"v":790},{"h":1004,"v":805},{"h":993,"v":810},{"h":1013,"v":815},{"h":988,"v":825},{"h":1004,"v":825},{"h":983,"v":830},{"h":1004,"v":840},{"h":1029,"v":840},{"h":1023,"v":855},{"h":1044,"v":850},{"h":1034,"v":860},{"h":1059,"v":855},{"h":1074,"v":855},{"h":1054,"v":815},{"h":1059,"v":785},{"h":1054,"v":790},{"h":1094,"v":800},{"h":1099,"v":780},{"h":1109,"v":775},{"h":1109,"v":790},{"h":1109,"v":810},{"h":1109,"v":835},{"h":1104,"v":845},{"h":1150,"v":775},{"h":1150,"v":790},{"h":1160,"v":790},{"h":1165,"v":815},{"h":1140,"v":825},{"h":1190,"v":815},{"h":1200,"v":805},{"h":1069,"v":845},{"h":1216,"v":830},{"h":1221,"v":835},{"h":1236,"v":830},{"h":1271,"v":785},{"h":1266,"v":780},{"h":1271,"v":800},{"h":1276,"v":810},{"h":1276,"v":835},{"h":1241,"v":855},{"h":1271,"v":860},{"h":1281,"v":855},{"h":1251,"v":862},{"h":1261,"v":866},{"h":1246,"v":871},{"h":1256,"v":871},{"h":1297,"v":845},{"h":1317,"v":850},{"h":1322,"v":845},{"h":1342,"v":780},{"h":1312,"v":795},{"h":1322,"v":793},{"h":1327,"v":800},{"h":1347,"v":810},{"h":1342,"v":835},{"h":1362,"v":835},{"h":1165,"v":855},{"h":1160,"v":850},{"h":1180,"v":866},{"h":1190,"v":871},{"h":1200,"v":876},{"h":1210,"v":881},{"h":1195,"v":886},{"h":1175,"v":881},{"h":1160,"v":876},{"h":1135,"v":866},{"h":1130,"v":871},{"h":1130,"v":886},{"h":1140,"v":896},{"h":1150,"v":896},{"h":1104,"v":866},{"h":1109,"v":871},{"h":1114,"v":876},{"h":1119,"v":881},{"h":1079,"v":866},{"h":1029,"v":886},{"h":1029,"v":896},{"h":1064,"v":881},{"h":1109,"v":891},{"h":1094,"v":896},{"h":1079,"v":906},{"h":1009,"v":901},{"h":988,"v":871},{"h":998,"v":861},{"h":1059,"v":911},{"h":1054,"v":916},{"h":980,"v":922},{"h":998,"v":926},{"h":993,"v":932},{"h":1003,"v":926},{"h":1003,"v":932},{"h":1008,"v":926},{"h":1019,"v":926}],
"labels":[{"t":"P","h":201,"v":171},{"t":"-150","h":130,"v":1269},{"t":"-100","h":318,"v":1303},{"t":"-50","h":519,"v":1338},{"t":"E","h":630,"v":1384},{"t":"0","h":733,"v":1374},{"t":"50","h":903,"v":1409},{"t":"100","h":1083,"v":1444},{"t":"150","h":1275,"v":1479},{"t":"-50","h":1564,"v":1430},{"t":"0","h":1832,"v":1269},{"t":"I","h":1866,"v":1315},{"t":"50","h":2136,"v":1107}],
"key":[{"t":"'BCP_VIS prb_010'","k":"a","h":2188,"h0":2218,"h2":2313,"v":49},{"t":"0.00143","k":"b","h":2188,"h0":2218,"h2":2313,"v":100},{"t":"0.00114","k":"c","h":2188,"h0":2218,"h2":2313,"v":150},{"t":"0.000856","k":"d","h":2188,"h0":2218,"h2":2313,"v":200},{"t":"0.000571","k":"e","h":2188,"h0":2218,"h2":2313,"v":250},{"t":"0.000285","k":"f","h":2188,"h0":2218,"h2":2313,"v":302}]
},
"layer":[
{"data":{"name":"frameLong"},"mark":{"type":"rule","stroke":"#040504","strokeWidth":4.5,"strokeDash":[28,2]},"encoding":{"x":{"field":"h","type":"quantitative","scale":{"domain":[0,2335],"nice":false,"zero":false},"axis":null},"y":{"field":"v","type":"quantitative","scale":{"domain":[1517,0],"nice":false,"zero":false},"axis":{"title":null,"offset":-204,"domain":false,"grid":false,"values":[366,516.5,667,817,967],"labelExpr":"{'366':'0.002','516.5':'0.0015','667':'0.001','817':'0.0005','967':'0'}[datum.value]","labelFont":"Liberation Sans","labelFontSize":49,"labelColor":"#040504","labelFontWeight":"normal","tickColor":"#040504","tickWidth":3,"tickSize":-20,"labelPadding":51}},"x2":{"field":"h2"},"y2":{"field":"v2"}}},
{"data":{"name":"frameShort"},"mark":{"type":"rule","stroke":"#040504","strokeWidth":4,"strokeDash":[14,2]},"encoding":{"x":{"field":"h","type":"quantitative"},"y":{"field":"v","type":"quantitative"},"x2":{"field":"h2"},"y2":{"field":"v2"}}},
{"data":{"name":"ticks"},"mark":{"type":"rule","stroke":"#040504","strokeWidth":4},"encoding":{"x":{"field":"h","type":"quantitative"},"y":{"field":"v","type":"quantitative"},"x2":{"field":"h2"},"y2":{"field":"v2"}}},
{"data":{"name":"ribbon"},"mark":{"type":"rule","stroke":"#040504","strokeWidth":5,"strokeDash":[24,8]},"encoding":{"x":{"field":"h","type":"quantitative"},"y":{"field":"v","type":"quantitative"},"x2":{"field":"h2"},"y2":{"field":"v2"}}},
{"data":{"name":"surface"},"mark":{"type":"line","fill":"#040504","stroke":"#040504","strokeWidth":1,"filled":false},"encoding":{"x":{"field":"h","type":"quantitative"},"y":{"field":"v","type":"quantitative"},"order":{"field":"n","type":"quantitative"}}},
{"data":{"name":"vert"},"mark":{"type":"rule","stroke":"white","strokeWidth":5},"encoding":{"x":{"field":"h","type":"quantitative"},"y":{"field":"v","type":"quantitative"},"y2":{"field":"v2"}}},
{"data":{"name":"horiz"},"mark":{"type":"rule","stroke":"white","strokeWidth":5},"encoding":{"x":{"field":"h","type":"quantitative"},"x2":{"field":"h2"},"y":{"field":"v","type":"quantitative"}}},
{"data":{"name":"cells"},"mark":{"type":"point","shape":"square","filled":true,"fill":"white","stroke":null,"size":25,"opacity":1},"encoding":{"x":{"field":"h","type":"quantitative"},"y":{"field":"v","type":"quantitative"}}},
{"data":{"name":"labels"},"mark":{"type":"text","align":"center","baseline":"middle"},"encoding":{"x":{"field":"h","type":"quantitative"},"y":{"field":"v","type":"quantitative"},"text":{"field":"t"}}},
{"data":{"name":"key"},"mark":{"type":"text","align":"right","baseline":"middle"},"encoding":{"x":{"field":"h","type":"quantitative"},"y":{"field":"v","type":"quantitative"},"text":{"field":"t"}}},
{"data":{"name":"key"},"mark":{"type":"rule","stroke":"#040504","strokeWidth":4},"encoding":{"x":{"field":"h0","type":"quantitative"},"x2":{"field":"h2"},"y":{"field":"v","type":"quantitative"},"strokeDash":{"field":"k","type":"nominal","legend":null,"scale":{"domain":["a","b","c","d","e","f"],"range":[[1,0],[10,5,10,5,10,12],[1,0],[16,8,100,0],[20,8,14,8,3,8,14,0],[8,6,8,12,30,0]]}}}}
]}
